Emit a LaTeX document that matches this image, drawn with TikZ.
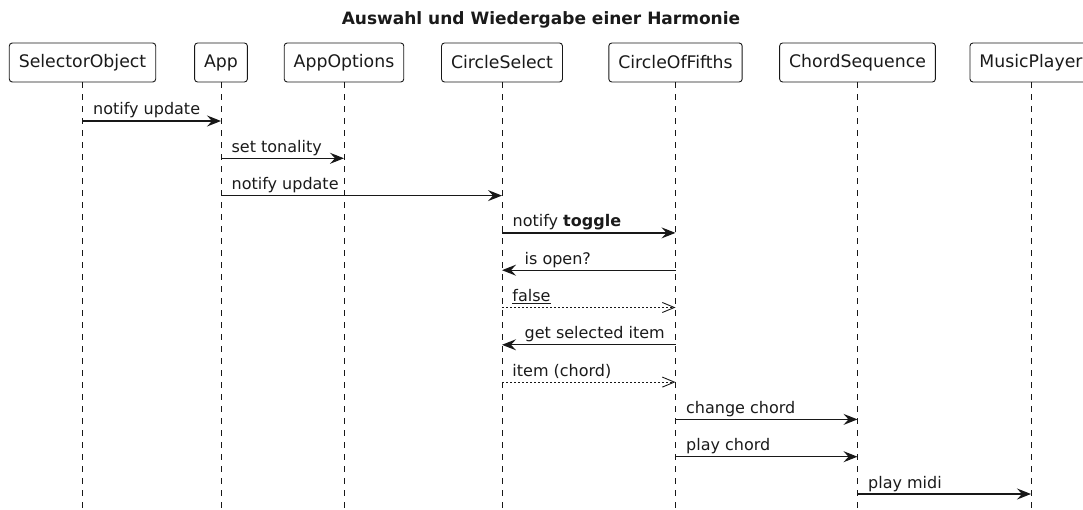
\documentclass[tikz,border=0pt]{standalone}
\usepackage{fontspec}
\setmainfont{DejaVu Sans}
\usetikzlibrary{arrows.meta,positioning,calc}

\definecolor{umlline}{HTML}{181818}
\definecolor{umltext}{HTML}{1A1A1A}

\begin{document}
\begin{tikzpicture}[x=1pt,y=-1pt,
    actor node/.style={draw=umlline,line width=0.9pt,rounded corners=3pt,fill=white,
        minimum height=39pt,inner xsep=9.5pt,text=umltext,font=\fontsize{17.3}{20}\selectfont},
    lifeline/.style={draw=umlline,line width=0.9pt,dash pattern=on 6pt off 6pt},
    msg/.style={draw=umlline,line width=1.3pt,-{Stealth[length=14pt,width=11pt,inset=5pt]}},
    reply/.style={draw=umlline,line width=0.9pt,dash pattern=on 2pt off 2pt,
        -{Straight Barb[length=12pt,width=10pt,line width=0.9pt]}},
    lbl/.style={anchor=base west,inner sep=0pt,xshift=10pt,yshift=6pt,text=umltext,
        font=\fontsize{16}{19}\selectfont},
    back lbl/.style={lbl,xshift=12pt}]

    \clip (0,0) rectangle (1083,510);

    \node[font=\fontsize{17}{20}\selectfont\bfseries,text=umltext] (title) at (541,20) {Auswahl und Wiedergabe einer Harmonie};

    \foreach \name/\x/\txt in {so/82.5/SelectorObject,app/221/App,ao/344/AppOptions,
        cs/502/CircleSelect,cof/675.5/CircleOfFifths,chs/857.5/ChordSequence,mp/1031/MusicPlayer}{
        \node[actor node] (\name) at (\x,62.5) {\txt};
    }

    \coordinate (bottom) at (0,512);
    \foreach \name in {so,app,ao,cs,cof,chs,mp}{
        \draw[lifeline] (\name.south) -- (\name.south |- bottom);
    }

    \foreach \i [evaluate = \i as \y using {121+37.3*(\i-1)}] in {1,...,11}{
        \coordinate (r\i) at (0,\y);
    }

    \draw[msg] (so |- r1) node[lbl]{notify update} -- (app |- r1);
    \draw[msg] (app |- r2) node[lbl]{set tonality} -- (ao |- r2);
    \draw[msg] (app |- r3) node[lbl]{notify update} -- (cs |- r3);
    \draw[msg] (cs |- r4) node[lbl]{notify \textbf{toggle}} -- (cof |- r4);
    \draw[msg] (cof |- r5) -- (cs |- r5) node[back lbl]{is open?};
    \draw[reply] (cs |- r6) node[lbl]{\underline{false}} -- (cof |- r6);
    \draw[msg] (cof |- r7) -- (cs |- r7) node[back lbl]{get selected item};
    \draw[reply] (cs |- r8) node[lbl]{item (chord)} -- (cof |- r8);
    \draw[msg] (cof |- r9) node[lbl]{change chord} -- (chs |- r9);
    \draw[msg] (cof |- r10) node[lbl]{play chord} -- (chs |- r10);
    \draw[msg] (chs |- r11) node[lbl]{play midi} -- (mp |- r11);

\end{tikzpicture}
\end{document}
